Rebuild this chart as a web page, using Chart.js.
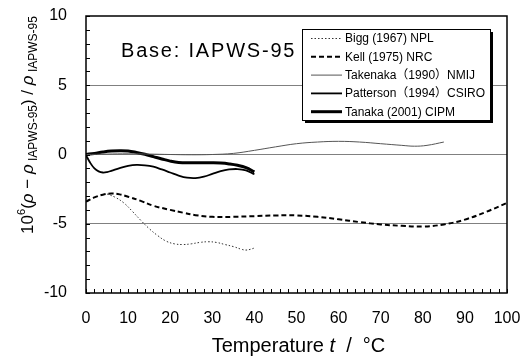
<!DOCTYPE html>
<html>
<head>
<meta charset="utf-8">
<script src="https://cdn.jsdelivr.net/npm/chart.js@4/dist/chart.umd.min.js"></script>
<style>
  html, body { margin: 0; padding: 0; background: #fff; }
  #wrap { width: 521px; height: 356px; }
</style>
</head>
<body>
<div id="wrap"><canvas id="c" width="521" height="356"></canvas></div>
<script>
const FONT = '"Liberation Sans", Arial, "Noto Sans CJK JP", sans-serif'

// series: temperature (°C) and deviation 10^6 (rho - rho_IAPWS95)/rho_IAPWS95
const biggT = [5, 7, 9, 11, 13, 15, 17, 19, 21, 23, 25, 27, 29, 31, 33, 35, 37, 38, 39, 40]
const biggD = [-2.85, -3.1, -3.5, -4.1, -4.75, -5.35, -5.85, -6.25, -6.45, -6.5, -6.45, -6.35, -6.3, -6.35, -6.5, -6.65, -6.85, -6.9, -6.85, -6.75]

const kellT = [0, 2, 4, 6, 8, 10, 13, 16, 20, 23, 26, 30, 35, 40, 45, 50, 55, 60, 65, 70, 75, 80, 85, 90, 95, 100]
const kellD = [-3.4, -3.1, -2.9, -2.82, -2.88, -3.05, -3.35, -3.7, -4.0, -4.2, -4.38, -4.5, -4.5, -4.45, -4.4, -4.4, -4.5, -4.68, -4.88, -5.05, -5.15, -5.2, -5.05, -4.7, -4.15, -3.5]

const takenakaT = [0, 5, 10, 15, 20, 25, 30, 35, 40, 45, 50, 55, 60, 65, 70, 75, 78, 81, 85]
const takenakaD = [0, 0.03, 0.05, 0.03, 0, -0.02, 0, 0.08, 0.3, 0.55, 0.78, 0.9, 0.95, 0.9, 0.78, 0.66, 0.6, 0.66, 0.9]

const pattersonT = [0, 1, 2, 3, 4, 5, 6, 8, 10, 12, 14, 16, 18, 20, 22, 24, 26, 28, 30, 32, 34, 36, 38, 40]
const pattersonD = [-0.05, -0.6, -1.0, -1.22, -1.3, -1.27, -1.18, -0.98, -0.82, -0.75, -0.78, -0.88, -1.08, -1.3, -1.52, -1.67, -1.7, -1.6, -1.4, -1.2, -1.08, -1.05, -1.15, -1.43]

const tanakaT = [0, 2, 4, 6, 8, 10, 12, 14, 16, 18, 20, 22, 25, 28, 30, 32, 34, 36, 38, 40]
const tanakaD = [0, 0.08, 0.18, 0.25, 0.27, 0.25, 0.15, 0.02, -0.15, -0.32, -0.48, -0.58, -0.6, -0.6, -0.6, -0.62, -0.68, -0.78, -0.95, -1.25]

const seriesNames = ['Bigg (1967) NPL', 'Kell (1975) NRC', 'Takenaka（1990）NMIJ', 'Patterson（1994）CSIRO', 'Tanaka (2001) CIPM']

const xMin = 0, xMax = 100, xLabelStep = 10, xMinorStep = 2
const yMin = -10, yMax = 10, yLabelStep = 5, yMinorStep = 1
const gridValues = [-5, 0, 5]

const pts = (xs, ys) => xs.map((x, i) => ({ x: x, y: ys[i] }))

const decorations = {
    id: 'decorations',
    afterDatasetsDraw(chart) {
        const ctx = chart.ctx
        const a = chart.chartArea
        const xs = chart.scales.x
        const ys = chart.scales.y
        ctx.save()

        // minor tick marks, inside the frame
        ctx.strokeStyle = '#000'
        ctx.lineWidth = 1
        ctx.beginPath()
        ys.ticks.forEach(t => {
            const py = Math.round(ys.getPixelForValue(t.value)) + 0.5
            ctx.moveTo(a.left, py)
            ctx.lineTo(a.left + 4, py)
        })
        xs.ticks.forEach(t => {
            const px = Math.round(xs.getPixelForValue(t.value)) + 0.5
            ctx.moveTo(px, a.bottom)
            ctx.lineTo(px, a.bottom - 4)
        })
        ctx.stroke()

        // frame
        ctx.lineWidth = 1.5
        ctx.strokeRect(a.left, a.top, a.right - a.left, a.bottom - a.top)

        // base note
        ctx.fillStyle = '#000'
        ctx.font = '20px ' + FONT
        ctx.textBaseline = 'alphabetic'
        ctx.textAlign = 'left'
        ctx.letterSpacing = '1.8px'
        ctx.fillText('Base: IAPWS-95', a.left + 35, a.top + 41)
        ctx.letterSpacing = '0px'

        // legend box
        const lx = a.left + 216, ly = a.top + 13, lw = 188, lh = 91
        ctx.fillStyle = '#000'
        ctx.fillRect(lx + 3, ly + 3, lw, lh)
        ctx.fillStyle = '#fff'
        ctx.fillRect(lx, ly, lw, lh)
        ctx.strokeStyle = '#000'
        ctx.lineWidth = 1
        ctx.strokeRect(lx + 0.5, ly + 0.5, lw, lh)
        ctx.font = '12px ' + FONT
        ctx.textBaseline = 'middle'
        chart.data.datasets.forEach((ds, i) => {
            const ry = ly + 9.5 + i * 18.3
            ctx.strokeStyle = ds.borderColor
            ctx.lineWidth = ds.borderWidth
            ctx.setLineDash(ds.borderDash || [])
            ctx.beginPath()
            ctx.moveTo(lx + 9, ry)
            ctx.lineTo(lx + 40, ry)
            ctx.stroke()
            ctx.setLineDash([])
            ctx.fillStyle = '#000'
            ctx.fillText(ds.label, lx + 43, ry + 0.5)
        })

        // x axis title
        const xt = [
            ['Temperature ', 'normal'],
            ['t', 'italic'],
            ['  /  \u00B0C', 'normal']
        ]
        ctx.textBaseline = 'alphabetic'
        let total = 0
        xt.forEach(p => { ctx.font = p[1] + ' 20px ' + FONT; total += ctx.measureText(p[0]).width })
        let cx = (a.left + a.right) / 2 + 2 - total / 2
        xt.forEach(p => {
            ctx.font = p[1] + ' 20px ' + FONT
            ctx.fillText(p[0], cx, 352)
            cx += ctx.measureText(p[0]).width
        })

        // y axis title (rotated)
        const yt = [
            ['10', 'normal 17px', 0],
            ['6', 'normal 11px', -8],
            ['(', 'normal 17px', 0],
            ['\u03C1', 'italic 17px', 0],
            [' \u2212 ', 'normal 17px', 0],
            ['\u03C1', 'italic 17px', 0],
            [' IAPWS-95', 'normal 12px', 4],
            [')', 'normal 17px', 0],
            [' / ', 'normal 17px', 0],
            ['\u03C1', 'italic 17px', 0],
            [' IAPWS-95', 'normal 12px', 4]
        ]
        total = 0
        yt.forEach(p => { ctx.font = p[1] + ' ' + FONT; total += ctx.measureText(p[0]).width })
        ctx.translate(33, 125)
        ctx.rotate(-Math.PI / 2)
        let tx = -total / 2
        yt.forEach(p => {
            ctx.font = p[1] + ' ' + FONT
            ctx.fillText(p[0], tx, p[2])
            tx += ctx.measureText(p[0]).width
        })
        ctx.restore()
    }
}

new Chart(document.getElementById('c'), {
    type: 'line',
    data: {
        datasets: [
            {
                label: seriesNames[0],
                data: pts(biggT, biggD),
                borderColor: '#333',
                borderWidth: 1,
                borderDash: [1.5, 2]
            },
            {
                label: seriesNames[1],
                data: pts(kellT, kellD),
                borderColor: '#000',
                borderWidth: 2,
                borderDash: [5, 3]
            },
            {
                label: seriesNames[2],
                data: pts(takenakaT, takenakaD),
                borderColor: '#555',
                borderWidth: 1
            },
            {
                label: seriesNames[3],
                data: pts(pattersonT, pattersonD),
                borderColor: '#000',
                borderWidth: 1.8
            },
            {
                label: seriesNames[4],
                data: pts(tanakaT, tanakaD),
                borderColor: '#000',
                borderWidth: 3
            }
        ]
    },
    options: {
        responsive: false,
        animation: false,
        layout: { autoPadding: false, padding: { left: 0, right: 14, top: 16, bottom: 0 } },
        elements: {
            point: { radius: 0 },
            line: { tension: 0.4, fill: false }
        },
        plugins: {
            legend: { display: false },
            tooltip: { enabled: false }
        },
        scales: {
            x: {
                type: 'linear',
                min: xMin,
                max: xMax,
                border: { display: false },
                grid: { display: false, drawTicks: false },
                afterFit: s => {
                    s.height = 63
                    s.paddingLeft = 0
                    s.paddingRight = 0
                },
                ticks: {
                    stepSize: xMinorStep,
                    autoSkip: false,
                    maxRotation: 0,
                    padding: 16,
                    color: '#000',
                    font: { family: FONT, size: 16 },
                    callback: v => (v % xLabelStep === 0 ? String(v) : '')
                }
            },
            y: {
                min: yMin,
                max: yMax,
                border: { display: false },
                grid: {
                    drawTicks: false,
                    color: c => (c.tick && gridValues.includes(c.tick.value) ? '#808080' : 'rgba(0,0,0,0)'),
                    lineWidth: 1
                },
                afterFit: s => {
                    s.width = 86
                    s.paddingTop = 0
                    s.paddingBottom = 0
                },
                ticks: {
                    stepSize: yMinorStep,
                    autoSkip: false,
                    padding: 19,
                    color: '#000',
                    font: { family: FONT, size: 16 },
                    callback: v => (v % yLabelStep === 0 ? String(v) : '')
                }
            }
        }
    },
    plugins: [decorations]
})
</script>
</body>
</html>
